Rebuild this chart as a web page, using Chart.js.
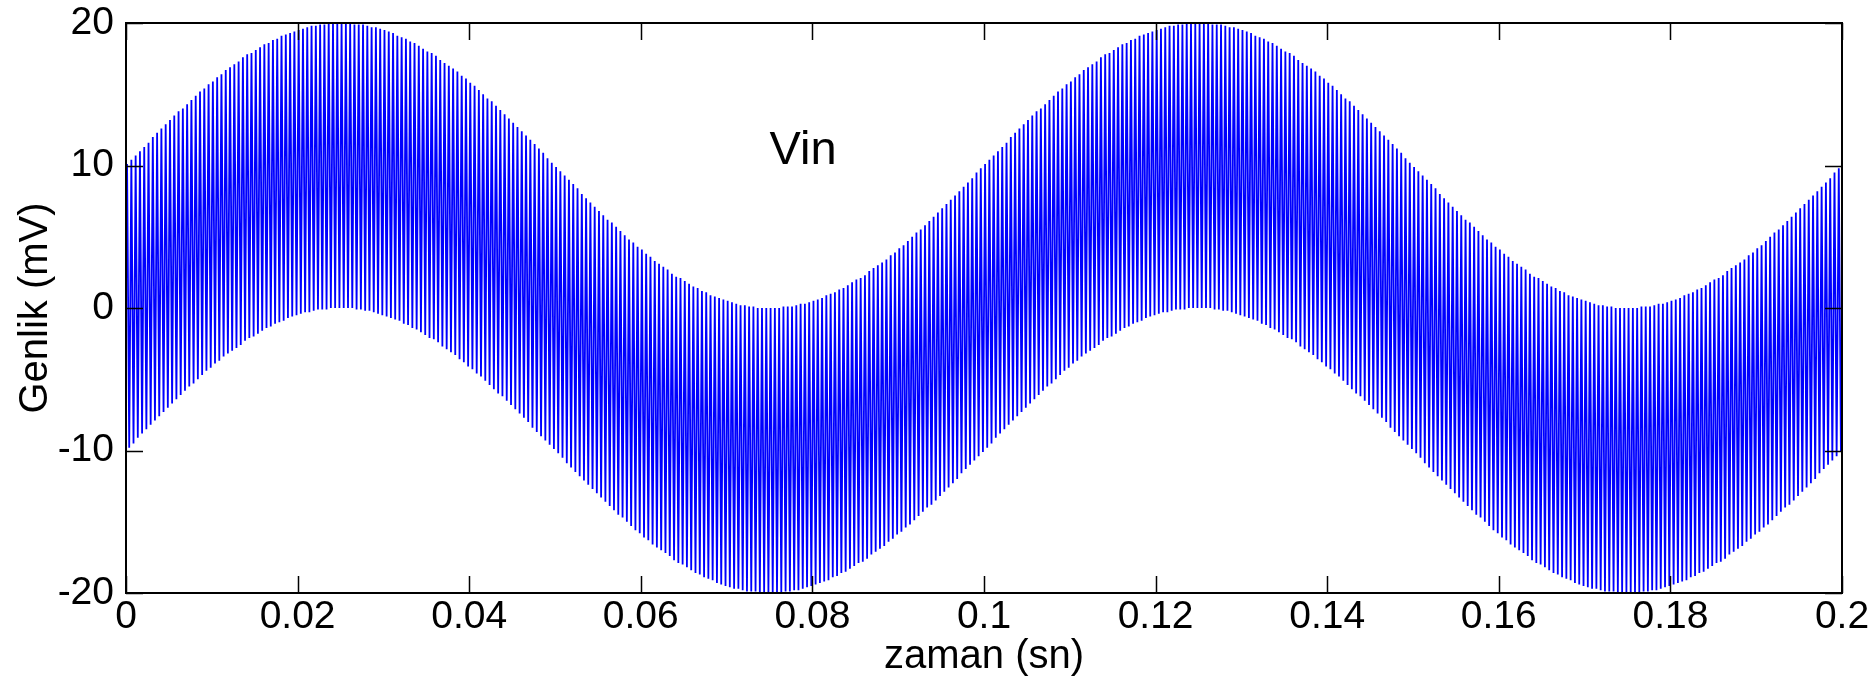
<!DOCTYPE html>
<html>
<head>
<meta charset="utf-8">
<title>Vin</title>
<script src="https://cdn.jsdelivr.net/npm/chart.js@4.4.0/dist/chart.umd.min.js"></script>
<style>
    html, body { margin: 0; padding: 0; background: #fff; }
    #vinChart { display: block; }
</style>
</head>
<body>
<canvas id="vinChart" width="1876" height="683"></canvas>
<script>
// Sample clock of the carrier: one peak and one trough every 0.0005 s (2 kHz)
const SAMPLE_STEP = 0.000125;

// Carrier peaks (mV), one per carrier cycle, 0 .. 0.2 s
const vinPeaks = [
    10.1, 10.4, 10.7, 11.0, 11.3, 11.6, 12.0, 12.3, 12.6, 12.9,
    13.2, 13.5, 13.8, 14.0, 14.3, 14.6, 14.9, 15.2, 15.4, 15.7,
    15.9, 16.2, 16.4, 16.7, 16.9, 17.1, 17.3, 17.6, 17.8, 17.9,
    18.1, 18.3, 18.5, 18.6, 18.8, 18.9, 19.1, 19.2, 19.3, 19.4,
    19.5, 19.6, 19.7, 19.8, 19.8, 19.9, 19.9, 20.0, 20.0, 20.0,
    20.0, 20.0, 20.0, 19.9, 19.9, 19.9, 19.8, 19.7, 19.7, 19.6,
    19.5, 19.4, 19.3, 19.1, 19.0, 18.9, 18.7, 18.6, 18.4, 18.2,
    18.0, 17.9, 17.7, 17.4, 17.2, 17.0, 16.8, 16.6, 16.3, 16.1,
    15.8, 15.6, 15.3, 15.0, 14.7, 14.5, 14.2, 13.9, 13.6, 13.3,
    13.0, 12.7, 12.4, 12.1, 11.8, 11.5, 11.2, 10.9, 10.5, 10.2,
    9.9, 9.6, 9.3, 9.0, 8.7, 8.4, 8.0, 7.7, 7.4, 7.1,
    6.8, 6.5, 6.2, 6.0, 5.7, 5.4, 5.1, 4.8, 4.6, 4.3,
    4.1, 3.8, 3.6, 3.3, 3.1, 2.9, 2.7, 2.4, 2.2, 2.1,
    1.9, 1.7, 1.5, 1.4, 1.2, 1.1, 0.9, 0.8, 0.7, 0.6,
    0.5, 0.4, 0.3, 0.2, 0.2, 0.1, 0.1, 0.0, 0.0, 0.0,
    0.0, 0.0, 0.0, 0.1, 0.1, 0.1, 0.2, 0.3, 0.3, 0.4,
    0.5, 0.6, 0.7, 0.9, 1.0, 1.1, 1.3, 1.4, 1.6, 1.8,
    2.0, 2.1, 2.3, 2.6, 2.8, 3.0, 3.2, 3.4, 3.7, 3.9,
    4.2, 4.4, 4.7, 5.0, 5.3, 5.5, 5.8, 6.1, 6.4, 6.7,
    7.0, 7.3, 7.6, 7.9, 8.2, 8.5, 8.8, 9.1, 9.5, 9.8,
    10.1, 10.4, 10.7, 11.0, 11.3, 11.6, 12.0, 12.3, 12.6, 12.9,
    13.2, 13.5, 13.8, 14.0, 14.3, 14.6, 14.9, 15.2, 15.4, 15.7,
    15.9, 16.2, 16.4, 16.7, 16.9, 17.1, 17.3, 17.6, 17.8, 17.9,
    18.1, 18.3, 18.5, 18.6, 18.8, 18.9, 19.1, 19.2, 19.3, 19.4,
    19.5, 19.6, 19.7, 19.8, 19.8, 19.9, 19.9, 20.0, 20.0, 20.0,
    20.0, 20.0, 20.0, 19.9, 19.9, 19.9, 19.8, 19.7, 19.7, 19.6,
    19.5, 19.4, 19.3, 19.1, 19.0, 18.9, 18.7, 18.6, 18.4, 18.2,
    18.0, 17.9, 17.7, 17.4, 17.2, 17.0, 16.8, 16.6, 16.3, 16.1,
    15.8, 15.6, 15.3, 15.0, 14.7, 14.5, 14.2, 13.9, 13.6, 13.3,
    13.0, 12.7, 12.4, 12.1, 11.8, 11.5, 11.2, 10.9, 10.5, 10.2,
    9.9, 9.6, 9.3, 9.0, 8.7, 8.4, 8.0, 7.7, 7.4, 7.1,
    6.8, 6.5, 6.2, 6.0, 5.7, 5.4, 5.1, 4.8, 4.6, 4.3,
    4.1, 3.8, 3.6, 3.3, 3.1, 2.9, 2.7, 2.4, 2.2, 2.1,
    1.9, 1.7, 1.5, 1.4, 1.2, 1.1, 0.9, 0.8, 0.7, 0.6,
    0.5, 0.4, 0.3, 0.2, 0.2, 0.1, 0.1, 0.0, 0.0, 0.0,
    0.0, 0.0, 0.0, 0.1, 0.1, 0.1, 0.2, 0.3, 0.3, 0.4,
    0.5, 0.6, 0.7, 0.9, 1.0, 1.1, 1.3, 1.4, 1.6, 1.8,
    2.0, 2.1, 2.3, 2.6, 2.8, 3.0, 3.2, 3.4, 3.7, 3.9,
    4.2, 4.4, 4.7, 5.0, 5.3, 5.5, 5.8, 6.1, 6.4, 6.7,
    7.0, 7.3, 7.6, 7.9, 8.2, 8.5, 8.8, 9.1, 9.5, 9.8
];

// Carrier troughs (mV), half a cycle after each peak
const vinTroughs = [
    -9.8, -9.5, -9.1, -8.8, -8.5, -8.2, -7.9, -7.6, -7.3, -7.0,
    -6.7, -6.4, -6.1, -5.8, -5.5, -5.3, -5.0, -4.7, -4.4, -4.2,
    -3.9, -3.7, -3.4, -3.2, -3.0, -2.8, -2.6, -2.3, -2.1, -2.0,
    -1.8, -1.6, -1.4, -1.3, -1.1, -1.0, -0.9, -0.7, -0.6, -0.5,
    -0.4, -0.3, -0.3, -0.2, -0.1, -0.1, -0.1, 0.0, 0.0, 0.0,
    0.0, 0.0, 0.0, -0.1, -0.1, -0.2, -0.2, -0.3, -0.4, -0.5,
    -0.6, -0.7, -0.8, -0.9, -1.1, -1.2, -1.4, -1.5, -1.7, -1.9,
    -2.1, -2.2, -2.4, -2.7, -2.9, -3.1, -3.3, -3.6, -3.8, -4.1,
    -4.3, -4.6, -4.8, -5.1, -5.4, -5.7, -6.0, -6.2, -6.5, -6.8,
    -7.1, -7.4, -7.7, -8.0, -8.4, -8.7, -9.0, -9.3, -9.6, -9.9,
    -10.2, -10.5, -10.9, -11.2, -11.5, -11.8, -12.1, -12.4, -12.7, -13.0,
    -13.3, -13.6, -13.9, -14.2, -14.5, -14.7, -15.0, -15.3, -15.6, -15.8,
    -16.1, -16.3, -16.6, -16.8, -17.0, -17.2, -17.4, -17.7, -17.9, -18.0,
    -18.2, -18.4, -18.6, -18.7, -18.9, -19.0, -19.1, -19.3, -19.4, -19.5,
    -19.6, -19.7, -19.7, -19.8, -19.9, -19.9, -19.9, -20.0, -20.0, -20.0,
    -20.0, -20.0, -20.0, -19.9, -19.9, -19.8, -19.8, -19.7, -19.6, -19.5,
    -19.4, -19.3, -19.2, -19.1, -18.9, -18.8, -18.6, -18.5, -18.3, -18.1,
    -17.9, -17.8, -17.6, -17.3, -17.1, -16.9, -16.7, -16.4, -16.2, -15.9,
    -15.7, -15.4, -15.2, -14.9, -14.6, -14.3, -14.0, -13.8, -13.5, -13.2,
    -12.9, -12.6, -12.3, -12.0, -11.6, -11.3, -11.0, -10.7, -10.4, -10.1,
    -9.8, -9.5, -9.1, -8.8, -8.5, -8.2, -7.9, -7.6, -7.3, -7.0,
    -6.7, -6.4, -6.1, -5.8, -5.5, -5.3, -5.0, -4.7, -4.4, -4.2,
    -3.9, -3.7, -3.4, -3.2, -3.0, -2.8, -2.6, -2.3, -2.1, -2.0,
    -1.8, -1.6, -1.4, -1.3, -1.1, -1.0, -0.9, -0.7, -0.6, -0.5,
    -0.4, -0.3, -0.3, -0.2, -0.1, -0.1, -0.1, 0.0, 0.0, 0.0,
    0.0, 0.0, 0.0, -0.1, -0.1, -0.2, -0.2, -0.3, -0.4, -0.5,
    -0.6, -0.7, -0.8, -0.9, -1.1, -1.2, -1.4, -1.5, -1.7, -1.9,
    -2.1, -2.2, -2.4, -2.7, -2.9, -3.1, -3.3, -3.6, -3.8, -4.1,
    -4.3, -4.6, -4.8, -5.1, -5.4, -5.7, -6.0, -6.2, -6.5, -6.8,
    -7.1, -7.4, -7.7, -8.0, -8.4, -8.7, -9.0, -9.3, -9.6, -9.9,
    -10.2, -10.5, -10.9, -11.2, -11.5, -11.8, -12.1, -12.4, -12.7, -13.0,
    -13.3, -13.6, -13.9, -14.2, -14.5, -14.7, -15.0, -15.3, -15.6, -15.8,
    -16.1, -16.3, -16.6, -16.8, -17.0, -17.2, -17.4, -17.7, -17.9, -18.0,
    -18.2, -18.4, -18.6, -18.7, -18.9, -19.0, -19.1, -19.3, -19.4, -19.5,
    -19.6, -19.7, -19.7, -19.8, -19.9, -19.9, -19.9, -20.0, -20.0, -20.0,
    -20.0, -20.0, -20.0, -19.9, -19.9, -19.8, -19.8, -19.7, -19.6, -19.5,
    -19.4, -19.3, -19.2, -19.1, -18.9, -18.8, -18.6, -18.5, -18.3, -18.1,
    -17.9, -17.8, -17.6, -17.3, -17.1, -16.9, -16.7, -16.4, -16.2, -15.9,
    -15.7, -15.4, -15.2, -14.9, -14.6, -14.3, -14.0, -13.8, -13.5, -13.2,
    -12.9, -12.6, -12.3, -12.0, -11.6, -11.3, -11.0, -10.7, -10.4, -10.1
];

// Axis ticks
const xTickValues = [0, 0.02, 0.04, 0.06, 0.08, 0.1, 0.12, 0.14, 0.16, 0.18, 0.2];
const xTickLabels = ['0', '0.02', '0.04', '0.06', '0.08', '0.1', '0.12', '0.14', '0.16', '0.18', '0.2'];
const yTickValues = [-20, -10, 0, 10, 20];
const yTickLabels = ['-20', '-10', '0', '10', '20'];

// Text placed inside the plot (data units)
const signalLabel = { text: 'Vin', x: 0.075, y: 11 };

const FONT = '"Liberation Sans", Arial, sans-serif';
const TICK_LEN = 17;

// Interleave peaks and troughs into one zig-zag trace
const vinPoints = [];
vinPeaks.forEach((peak, k) => {
    vinPoints.push({ x: (4 * k + 1) * SAMPLE_STEP, y: peak });
    vinPoints.push({ x: (4 * k + 3) * SAMPLE_STEP, y: vinTroughs[k] });
});

// Box around the plot, inward ticks on all four sides, and the signal name
const boxPlugin = {
    id: 'boxPlugin',
    afterDatasetsDraw(chart) {
        const { ctx, chartArea: a, scales: { x, y } } = chart;
        ctx.save();
        ctx.strokeStyle = '#000';
        ctx.lineWidth = 1.5;
        ctx.beginPath();
        xTickValues.forEach(v => {
            const px = Math.round(x.getPixelForValue(v)) + 0.5;
            ctx.moveTo(px, a.bottom);
            ctx.lineTo(px, a.bottom - TICK_LEN);
            ctx.moveTo(px, a.top);
            ctx.lineTo(px, a.top + TICK_LEN);
        });
        yTickValues.forEach(v => {
            const py = Math.round(y.getPixelForValue(v)) + 0.5;
            ctx.moveTo(a.left, py);
            ctx.lineTo(a.left + TICK_LEN, py);
            ctx.moveTo(a.right, py);
            ctx.lineTo(a.right - TICK_LEN, py);
        });
        ctx.stroke();

        ctx.lineWidth = 2;
        ctx.strokeRect(a.left, a.top, a.right - a.left, a.bottom - a.top);

        ctx.fillStyle = '#000';
        ctx.font = '47px ' + FONT;
        ctx.textAlign = 'left';
        ctx.textBaseline = 'middle';
        ctx.fillText(signalLabel.text, x.getPixelForValue(signalLabel.x), y.getPixelForValue(signalLabel.y));
        ctx.restore();
    }
};

const ctx = document.getElementById('vinChart').getContext('2d');
new Chart(ctx, {
    type: 'line',
    data: {
        datasets: [{
            label: 'Vin',
            data: vinPoints,
            borderColor: 'rgb(0, 0, 255)',
            borderWidth: 1.8,
            pointRadius: 0,
            tension: 0,
            fill: false
        }]
    },
    options: {
        responsive: false,
        animation: false,
        devicePixelRatio: 1,
        layout: {
            padding: { top: 23, right: 34, bottom: 0, left: 0 }
        },
        plugins: {
            legend: { display: false },
            tooltip: { enabled: false }
        },
        scales: {
            x: {
                type: 'linear',
                min: 0,
                max: 0.2,
                grid: { display: false, drawTicks: false },
                border: { display: false },
                afterBuildTicks: scale => {
                    scale.ticks = xTickValues.map(v => ({ value: v }));
                },
                afterFit: scale => { scale.height = 90; },
                ticks: {
                    autoSkip: false,
                    maxRotation: 0,
                    padding: 1,
                    color: '#000',
                    font: { family: FONT, size: 39 },
                    callback: (value, index) => xTickLabels[index]
                },
                title: {
                    display: true,
                    text: 'zaman (sn)',
                    color: '#000',
                    font: { family: FONT, size: 40 },
                    padding: { top: 0, bottom: 2 }
                }
            },
            y: {
                min: -20,
                max: 20,
                grid: { display: false, drawTicks: false },
                border: { display: false },
                afterBuildTicks: scale => {
                    scale.ticks = yTickValues.map(v => ({ value: v }));
                },
                afterFit: scale => {
                    // fixed axis band; the label overhang is covered by layout padding
                    scale.width = 126;
                    scale.paddingTop = 0;
                    scale.paddingBottom = 0;
                },
                ticks: {
                    padding: 12,
                    color: '#000',
                    font: { family: FONT, size: 39 },
                    callback: (value, index) => yTickLabels[index]
                },
                title: {
                    display: true,
                    text: 'Genlik (mV)',
                    color: '#000',
                    font: { family: FONT, size: 40 },
                    padding: { top: 12, bottom: 0 }
                }
            }
        }
    },
    plugins: [boxPlugin]
});
</script>
</body>
</html>
